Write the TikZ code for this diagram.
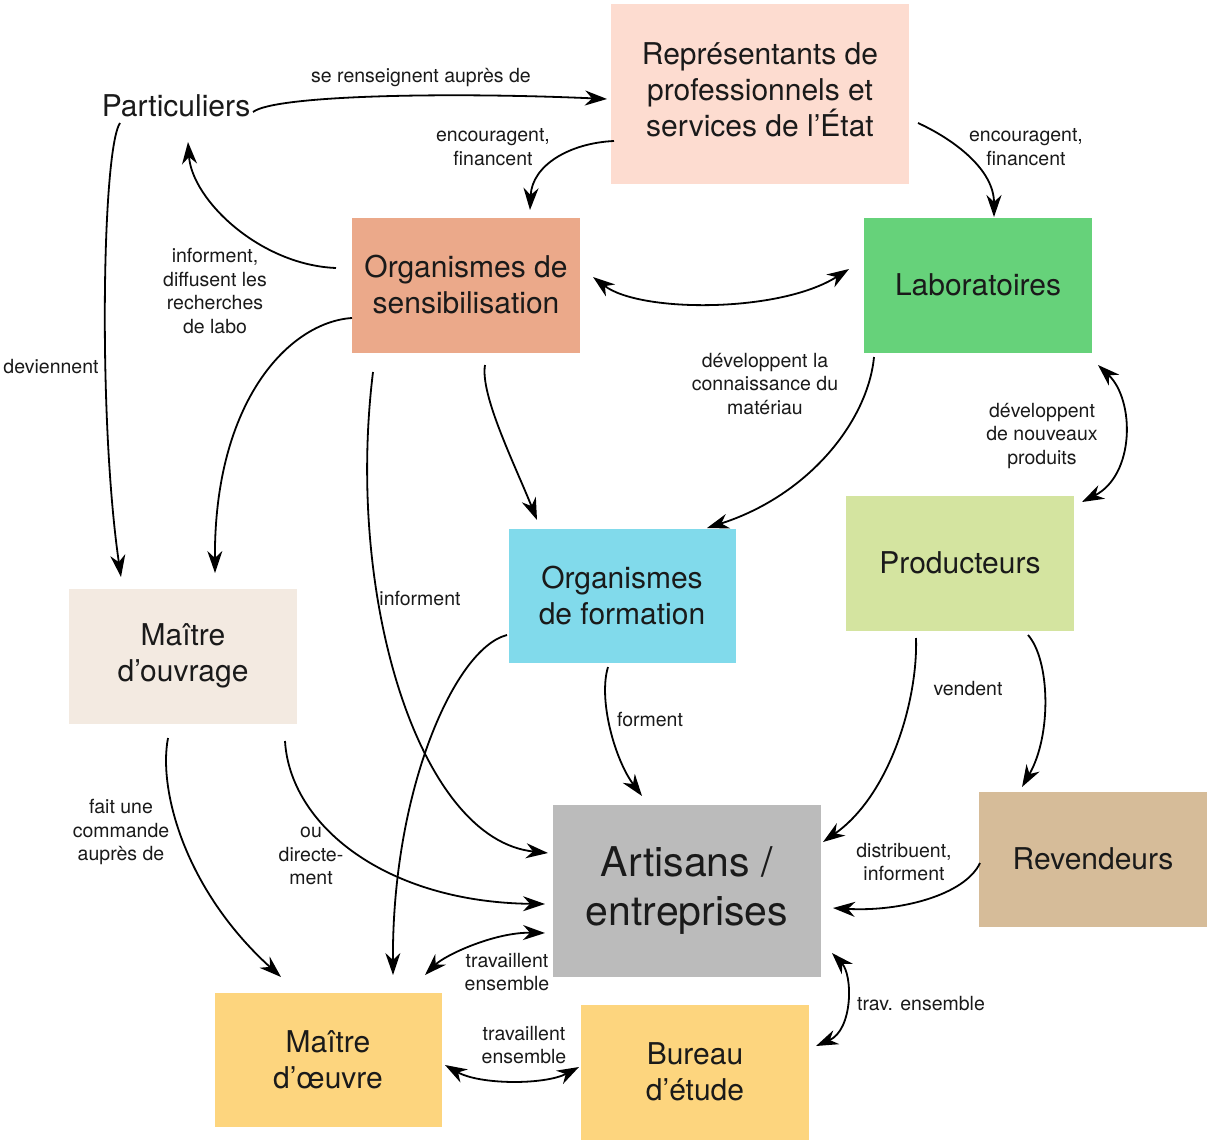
\documentclass[tikz,border=0pt]{standalone}
\usepackage{fontspec}
\setmainfont{TeX Gyre Heros}
\usetikzlibrary{arrows.meta}
\definecolor{cRep}{HTML}{FDDCD0}
\definecolor{cSens}{HTML}{EBA98A}
\definecolor{cLab}{HTML}{66D27A}
\definecolor{cMo}{HTML}{F3EAE1}
\definecolor{cForm}{HTML}{81DAEB}
\definecolor{cProd}{HTML}{D4E4A0}
\definecolor{cArt}{HTML}{BBBBBB}
\definecolor{cRev}{HTML}{D6BC99}
\definecolor{cMoe}{HTML}{FDD57E}
\definecolor{cTxt}{HTML}{1A1A1A}
\begin{document}
\begin{tikzpicture}[x=1pt,y=-1pt,
  box/.style={rectangle, inner sep=0pt, align=center, minimum width=228pt, minimum height=135pt,
    text=cTxt, font=\fontsize{30}{36}\selectfont},
  lbl/.style={inner sep=0pt, align=center, text=cTxt, font=\fontsize{19.5}{23.7}\selectfont},
  tipA/.tip={Stealth[length=22pt,width=15pt,inset=7pt]},
  conn/.style={line width=1.8pt, -tipA},
  dconn/.style={line width=1.8pt, tipA-tipA}]
\useasboundingbox (0,0) rectangle (1207,1140);
\fill[white] (0,0) rectangle (1207,1140);

% nodes
\node[box, fill=cRep, minimum width=298pt, minimum height=180pt] (rep) at (760,94) {Représentants de\\professionnels et\\services de l’État\\[-28pt]\mbox{}};
\node[box, minimum width=0pt, minimum height=0pt, inner sep=2pt] (part) at (176,106) {Particuliers};
\node[box, fill=cSens] (sens) at (466,285) {Organismes de\\sensibilisation};
\node[box, fill=cLab] (lab) at (978,285) {Laboratoires};
\node[box, fill=cMo] (mo) at (183,656) {Maître\\d’ouvrage};
\node[box, fill=cForm, minimum width=227pt, minimum height=134pt] (form) at (622,596) {Organismes\\de formation};
\node[box, fill=cProd] (prod) at (960,563) {Producteurs};
\node[box, fill=cArt, minimum width=268pt, minimum height=172pt, font=\fontsize{41}{49}\selectfont] (art) at (687,891) {Artisans /\\entreprises};
\node[box, fill=cRev] (rev) at (1093,859) {Revendeurs};
\node[box, fill=cMoe, minimum width=227pt, minimum height=134pt] (moe) at (328,1060) {Maître\\d’œuvre};
\node[box, fill=cMoe] (bur) at (695,1072) {Bureau\\d’étude};

% connectors
\draw[conn] ([shift={(77,6)}]part.center) .. controls (275,95) and (450,92) .. ([shift={(-153,5)}]rep.center);
\draw[conn] ([shift={(-146,47)}]rep.center) .. controls (570,143) and (532,165) .. ([shift={(64,-75)}]sens.center);
\draw[conn] ([shift={(158,29)}]rep.center) .. controls (955,140) and (994,170) .. ([shift={(16,-68)}]lab.center);
\draw[conn] ([shift={(-130,-17)}]sens.center) .. controls (260,265) and (192,200) .. ([shift={(12,36)}]part.center);
\draw[dconn] ([shift={(127,-8)}]sens.center) .. controls (640,313) and (780,313) .. ([shift={(-129,-16)}]lab.center);
\draw[conn] ([shift={(-56,17)}]part.center) .. controls (102,150) and (98,420) .. ([shift={(-62,-79)}]mo.center);
\draw[conn] ([shift={(-114,33)}]sens.center) .. controls (290,322) and (214,400) .. ([shift={(32,-83)}]mo.center);
\draw[conn] ([shift={(-93,87)}]sens.center) .. controls (345,600) and (420,840) .. ([shift={(-139,-38)}]art.center);
\draw[conn] ([shift={(19,80)}]sens.center) .. controls (480,395) and (515,465) .. ([shift={(-85,-76)}]form.center);
\draw[conn] ([shift={(-104,72)}]lab.center) .. controls (868,420) and (810,495) .. ([shift={(85,-68)}]form.center);
\draw[dconn] ([shift={(120,80)}]lab.center) .. controls (1135,400) and (1135,475) .. ([shift={(122,-61)}]prod.center);
\draw[conn] ([shift={(-115,39)}]form.center) .. controls (455,648) and (392,790) .. ([shift={(65,-85)}]moe.center);
\draw[conn] ([shift={(-14,71)}]form.center) .. controls (598,700) and (615,760) .. ([shift={(-45,-95)}]art.center);
\draw[conn] ([shift={(-44,75)}]prod.center) .. controls (918,700) and (890,795) .. ([shift={(136,-49)}]art.center);
\draw[conn] ([shift={(68,72)}]prod.center) .. controls (1050,660) and (1052,735) .. ([shift={(-71,-72)}]rev.center);
\draw[conn] ([shift={(-113,4)}]rev.center) .. controls (965,895) and (900,912) .. ([shift={(146,17)}]art.center);
\draw[conn] ([shift={(-15,82)}]mo.center) .. controls (158,790) and (185,890) .. ([shift={(-47,-83)}]moe.center);
\draw[conn] ([shift={(102,85)}]mo.center) .. controls (290,825) and (385,902) .. ([shift={(-142,13)}]art.center);
\draw[dconn] ([shift={(97,-85)}]moe.center) .. controls (445,955) and (495,932) .. ([shift={(-142,42)}]art.center);
\draw[dconn] ([shift={(117,5)}]moe.center) .. controls (480,1085) and (545,1085) .. ([shift={(-116,-5)}]bur.center);
\draw[dconn] ([shift={(145,62)}]art.center) .. controls (853,975) and (853,1030) .. ([shift={(121,-26)}]bur.center);

% labels
\node[lbl] (l1) at (421,78) {se renseignent auprès de};
\node[lbl] (l2) at (493,147) {encouragent,\\financent};
\node[lbl] (l3) at (1026,147) {encouragent,\\financent};
\node[lbl] (l4) at (215,291) {informent,\\diffusent les\\recherches\\de labo};
\node[lbl] (l5) at (51,367) {deviennent};
\node[lbl] (l6) at (420,599) {informent};
\node[lbl] (l7) at (765,384) {développent la\\connaissance du\\matériau};
\node[lbl] (l8) at (1042,436) {développent\\de nouveaux\\produits};
\node[lbl] (l9) at (650,720) {forment};
\node[lbl] (l10) at (968,689) {vendent};
\node[lbl] (l11) at (904,862) {distribuent,\\informent};
\node[lbl] (l12) at (121,832) {fait une\\commande\\auprès de};
\node[lbl] (l13) at (311,856) {ou\\directe-\\ment};
\node[lbl] (l14) at (507,972) {travaillent\\ensemble};
\node[lbl] (l15) at (524,1045) {travaillent\\ensemble};
\node[lbl] (l16) at (921,1004) {trav. ensemble};
\end{tikzpicture}
\end{document}
